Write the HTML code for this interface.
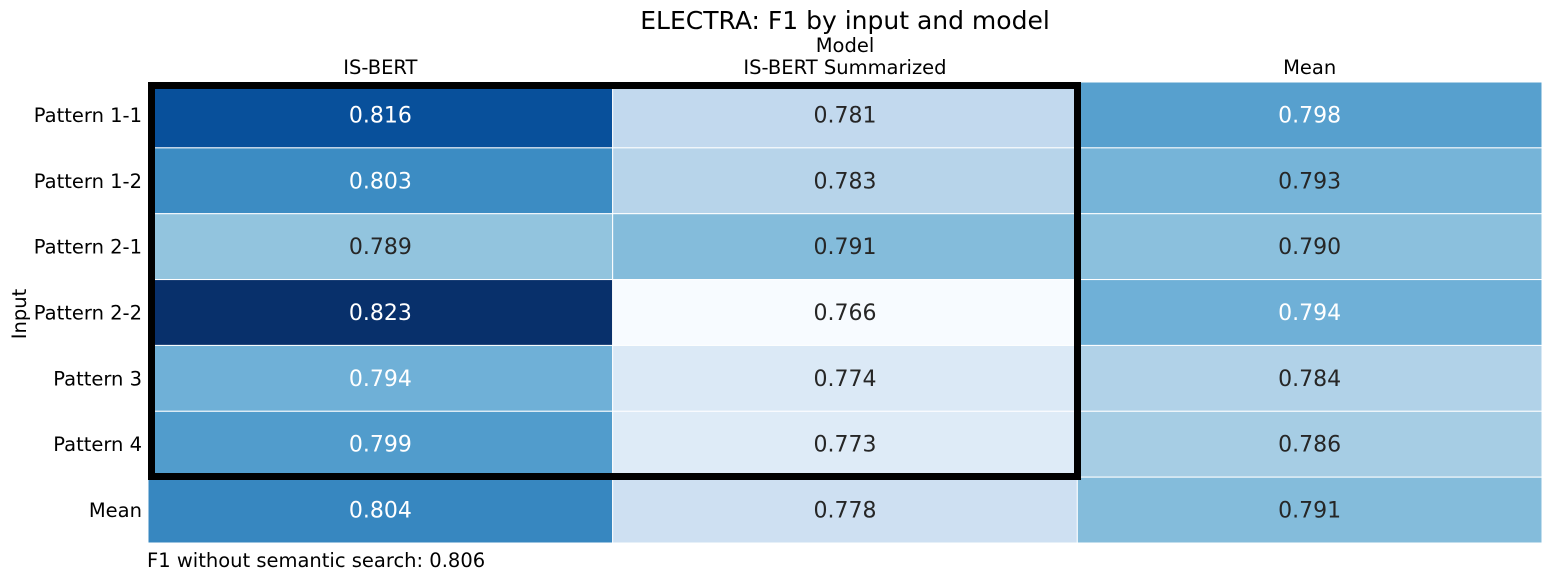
<!DOCTYPE html>
<html><head><meta charset="utf-8"><style>
body{margin:0;background:#fff;}
svg{display:block;font-family:"DejaVu Sans","Liberation Sans",sans-serif;}
</style></head><body>
<svg id="chart" width="1552" height="580" viewBox="0 0 1552 580">
<text x="845" y="29" font-size="25" text-anchor="middle">ELECTRA: F1 by input and model</text>
<text x="845" y="52" font-size="19.5" text-anchor="middle">Model</text>
<text transform="translate(26,314) rotate(-90)" font-size="19.5" text-anchor="middle">Input</text>
<g id="cells"></g>
<g id="labels"></g>
<rect x="151.5" y="85.5" width="926" height="391" fill="none" stroke="#000" stroke-width="7"/>
<text x="147" y="567" font-size="19.5">F1 without semantic search: 0.806</text>
</svg>
<script>
const columns = ["IS-BERT","IS-BERT Summarized","Mean"];
const rows = ["Pattern 1-1","Pattern 1-2","Pattern 2-1","Pattern 2-2","Pattern 3","Pattern 4","Mean"];
const colIsBert = [0.816,0.803,0.789,0.823,0.794,0.799,0.804];
const colSummarized = [0.781,0.783,0.791,0.766,0.774,0.773,0.778];
const colMean = [0.798,0.793,0.790,0.794,0.784,0.786,0.791];
const values = [colIsBert,colSummarized,colMean];

const X0=148,X1=1542,Y0=82,Y1=543;
const cw=(X1-X0)/columns.length, rh=(Y1-Y0)/rows.length;
const xPos=i=>X0+i*cw, yPos=j=>Y0+j*rh;
const all=values.flat(); const vmin=Math.min(...all), vmax=Math.max(...all);
const stops=["#f7fbff","#deebf7","#c6dbef","#9ecae1","#6baed6","#4292c6","#2171b5","#08519c","#08306b"].map(h=>[1,3,5].map(k=>parseInt(h.substr(k,2),16)));
function color(v){let t=(v-vmin)/(vmax-vmin);t=Math.max(0,Math.min(1,t));const p=t*(stops.length-1);const i=Math.min(stops.length-2,Math.floor(p));const f=p-i;const c=stops[i].map((a,k)=>Math.round(a+(stops[i+1][k]-a)*f));return `rgb(${c.join(',')})`;}
const NS="http://www.w3.org/2000/svg";
const cells=document.getElementById('cells'), labels=document.getElementById('labels');
values.forEach((col,i)=>{
  col.forEach((v,j)=>{
    const r=document.createElementNS(NS,'rect');
    
    
    r.setAttribute('x',xPos(i));r.setAttribute('y',yPos(j));r.setAttribute('width',cw);r.setAttribute('height',rh);
    r.setAttribute('fill',color(v));r.setAttribute('stroke','#fff');r.setAttribute('stroke-width','1');
    cells.appendChild(r);
    const t=document.createElementNS(NS,'text');
    
    
    t.setAttribute('x',xPos(i)+cw/2);t.setAttribute('y',yPos(j)+rh/2+7.5);
    t.setAttribute('font-size','22');t.setAttribute('text-anchor','middle');
    t.setAttribute('fill',(v-vmin)/(vmax-vmin)>0.48?'#fff':'#262626');
    t.textContent=v.toFixed(3);
    cells.appendChild(t);
  });
});
columns.forEach((c,i)=>{
  const t=document.createElementNS(NS,'text');
  
  
  t.setAttribute('x',xPos(i)+cw/2);t.setAttribute('y',74);t.setAttribute('font-size','19.5');t.setAttribute('text-anchor','middle');
  t.textContent=c;labels.appendChild(t);
});
rows.forEach((r,j)=>{
  const t=document.createElementNS(NS,'text');
  
  
  t.setAttribute('x',142);t.setAttribute('y',yPos(j)+rh/2+7);t.setAttribute('font-size','19.5');t.setAttribute('text-anchor','end');
  t.textContent=r;labels.appendChild(t);
});
</script>
</body></html>
